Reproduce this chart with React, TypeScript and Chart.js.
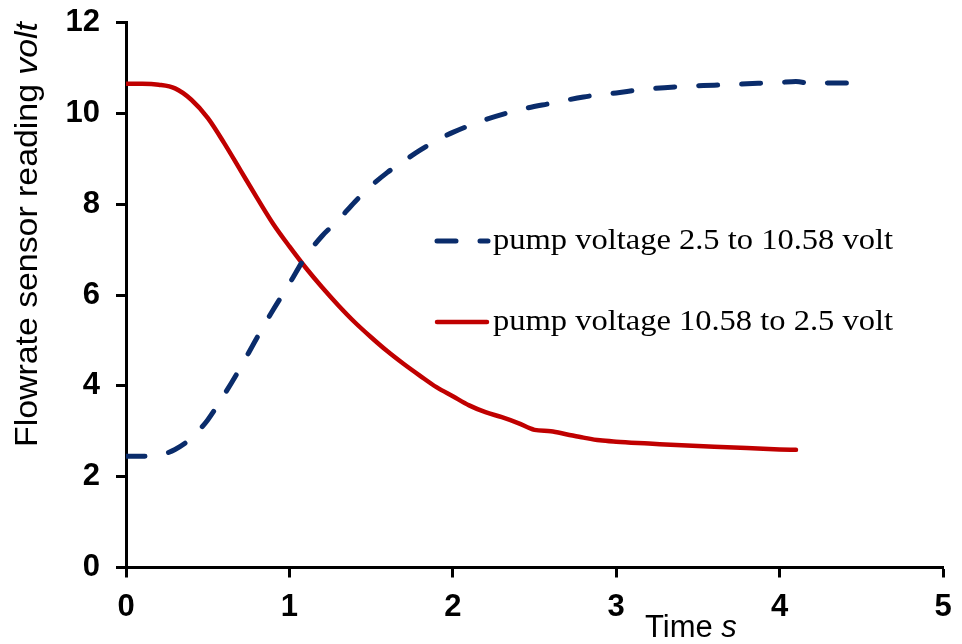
import React, { useEffect, useRef } from "react";
import { Chart, registerables } from "chart.js";

Chart.register(...registerables);

// Data
const riseTime = [0, 0.1, 0.2, 0.3, 0.4, 0.5, 0.6, 0.7, 0.8, 0.9, 1.0, 1.1, 1.2, 1.3, 1.4, 1.5, 1.6, 1.7, 1.8, 1.9, 2.0, 2.2, 2.4, 2.6, 2.8, 3.0, 3.2, 3.4, 3.6, 3.8, 4.0, 4.1, 4.2, 4.3, 4.42];
const riseValues = [2.45, 2.45, 2.47, 2.6, 2.85, 3.25, 3.8, 4.4, 5.05, 5.67, 6.25, 6.85, 7.3, 7.65, 8.05, 8.4, 8.7, 8.95, 9.19, 9.4, 9.58, 9.86, 10.07, 10.22, 10.36, 10.45, 10.54, 10.59, 10.62, 10.65, 10.68, 10.7, 10.65, 10.67, 10.67];

const fallTime = [0, 0.1, 0.2, 0.3, 0.4, 0.5, 0.6, 0.7, 0.8, 0.9, 1.0, 1.1, 1.2, 1.3, 1.4, 1.5, 1.6, 1.7, 1.8, 1.9, 2.0, 2.1, 2.2, 2.3, 2.4, 2.5, 2.6, 2.7, 2.8, 2.9, 3.0, 3.2, 3.4, 3.6, 3.8, 4.0, 4.1];
const fallValues = [10.65, 10.65, 10.63, 10.55, 10.3, 9.9, 9.35, 8.75, 8.15, 7.57, 7.07, 6.6, 6.17, 5.77, 5.4, 5.07, 4.76, 4.48, 4.22, 3.97, 3.77, 3.57, 3.42, 3.31, 3.18, 3.03, 3.0, 2.93, 2.86, 2.8, 2.77, 2.73, 2.69, 2.66, 2.63, 2.6, 2.59];

const xTicks = [0, 1, 2, 3, 4, 5];
const yTicks = [0, 2, 4, 6, 8, 10, 12];

const riseLabel = "pump voltage 2.5 to 10.58 volt";
const fallLabel = "pump voltage 10.58 to 2.5 volt";
const xTitleMain = "Time ";
const xTitleUnit = "s";
const yTitleMain = "Flowrate sensor reading ";
const yTitleUnit = "volt";

const BLUE = "#0A2C6B";
const RED = "#C00000";

const SANS = "Arial, 'Liberation Sans', sans-serif";
const SERIF = "'Times New Roman', 'Liberation Serif', serif";

const annotations = {
  id: "customText",
  afterDraw(chart: any) {
    const ctx = chart.ctx as CanvasRenderingContext2D;
    ctx.save();
    ctx.fillStyle = "#000";
    ctx.textBaseline = "alphabetic";
    ctx.textAlign = "left";

    // Legend
    const drawLegendText = (text: string, x: number, y: number) => {
      ctx.font = `30px ${SERIF}`;
      const w = ctx.measureText(text).width;
      ctx.save();
      ctx.translate(x, y);
      ctx.scale(400 / w, 1);
      ctx.fillText(text, 0, 0);
      ctx.restore();
    };
    ctx.lineCap = "round";
    ctx.strokeStyle = BLUE;
    ctx.lineWidth = 5;
    ctx.beginPath();
    ctx.moveTo(437, 241);
    ctx.lineTo(456, 241);
    ctx.moveTo(480, 241);
    ctx.lineTo(488, 241);
    ctx.stroke();
    drawLegendText(riseLabel, 493, 249);

    ctx.strokeStyle = RED;
    ctx.lineWidth = 4.5;
    ctx.beginPath();
    ctx.moveTo(437, 322);
    ctx.lineTo(487, 322);
    ctx.stroke();
    drawLegendText(fallLabel, 493, 330);

    // X title
    ctx.font = `31px ${SANS}`;
    ctx.fillText(xTitleMain, 645, 637);
    const wx = ctx.measureText(xTitleMain).width;
    ctx.font = `italic 31px ${SANS}`;
    ctx.fillText(xTitleUnit, 645 + wx, 637);

    // Y title (rotated)
    ctx.save();
    ctx.translate(37, 447);
    ctx.rotate(-Math.PI / 2);
    ctx.font = `31px ${SANS}`;
    const w1 = ctx.measureText(yTitleMain).width;
    ctx.font = `italic 31px ${SANS}`;
    const w2 = ctx.measureText(yTitleUnit).width;
    ctx.scale(425 / (w1 + w2), 1);
    ctx.font = `31px ${SANS}`;
    ctx.fillText(yTitleMain, 0, 0);
    ctx.font = `italic 31px ${SANS}`;
    ctx.fillText(yTitleUnit, w1, 0);
    ctx.restore();

    ctx.restore();
  },
};

export default function App() {
  const canvasRef = useRef<HTMLCanvasElement | null>(null);

  useEffect(() => {
    document.body.style.margin = "0";
    const canvas = canvasRef.current;
    if (!canvas) return;
    const chart = new Chart(canvas, {
      type: "line",
      data: {
        datasets: [
          {
            label: riseLabel,
            data: riseTime.map((t, i) => ({ x: t, y: riseValues[i] })),
            borderColor: BLUE,
            borderWidth: 5,
            borderDash: [19, 24],
            borderCapStyle: "round",
            pointRadius: 0,
            fill: false,
            cubicInterpolationMode: "monotone",
          },
          {
            label: fallLabel,
            data: fallTime.map((t, i) => ({ x: t, y: fallValues[i] })),
            borderColor: RED,
            borderWidth: 4.5,
            borderCapStyle: "round",
            pointRadius: 0,
            fill: false,
            cubicInterpolationMode: "monotone",
          },
        ],
      },
      options: {
        animation: false,
        responsive: false,
        maintainAspectRatio: false,
        layout: { padding: { top: 22.5, right: 19, bottom: 0, left: 0 } },
        plugins: {
          legend: { display: false },
          tooltip: { enabled: false },
        },
        scales: {
          x: {
            type: "linear",
            min: 0,
            max: 5,
            afterBuildTicks: (s: any) => {
              s.ticks = xTicks.map((v) => ({ value: v }));
            },
            afterFit: (s: any) => {
              s.height = 76.5;
              s.paddingLeft = 0;
              s.paddingRight = 0;
            },
            grid: {
              drawOnChartArea: false,
              drawTicks: true,
              tickLength: 10,
              tickWidth: 3,
              tickColor: "#000",
            },
            border: { display: true, color: "#000", width: 3 },
            ticks: {
              color: "#000",
              padding: 11,
              maxRotation: 0,
              font: { family: SANS, size: 31, weight: "bold" },
            },
          },
          y: {
            type: "linear",
            min: 0,
            max: 12,
            afterBuildTicks: (s: any) => {
              s.ticks = yTicks.map((v) => ({ value: v }));
            },
            afterFit: (s: any) => {
              s.width = 126;
              s.paddingTop = 0;
              s.paddingBottom = 0;
            },
            grid: {
              drawOnChartArea: false,
              drawTicks: true,
              tickLength: 10,
              tickWidth: 3,
              tickColor: "#000",
            },
            border: { display: true, color: "#000", width: 3 },
            ticks: {
              color: "#000",
              padding: 16,
              font: { family: SANS, size: 31, weight: "bold" },
            },
          },
        },
      },
      plugins: [annotations],
    });
    return () => chart.destroy();
  }, []);

  return (
    <div style={{ width: 962, height: 644, position: "relative" }}>
      <canvas ref={canvasRef} width={962} height={644} style={{ display: "block" }} />
    </div>
  );
}
